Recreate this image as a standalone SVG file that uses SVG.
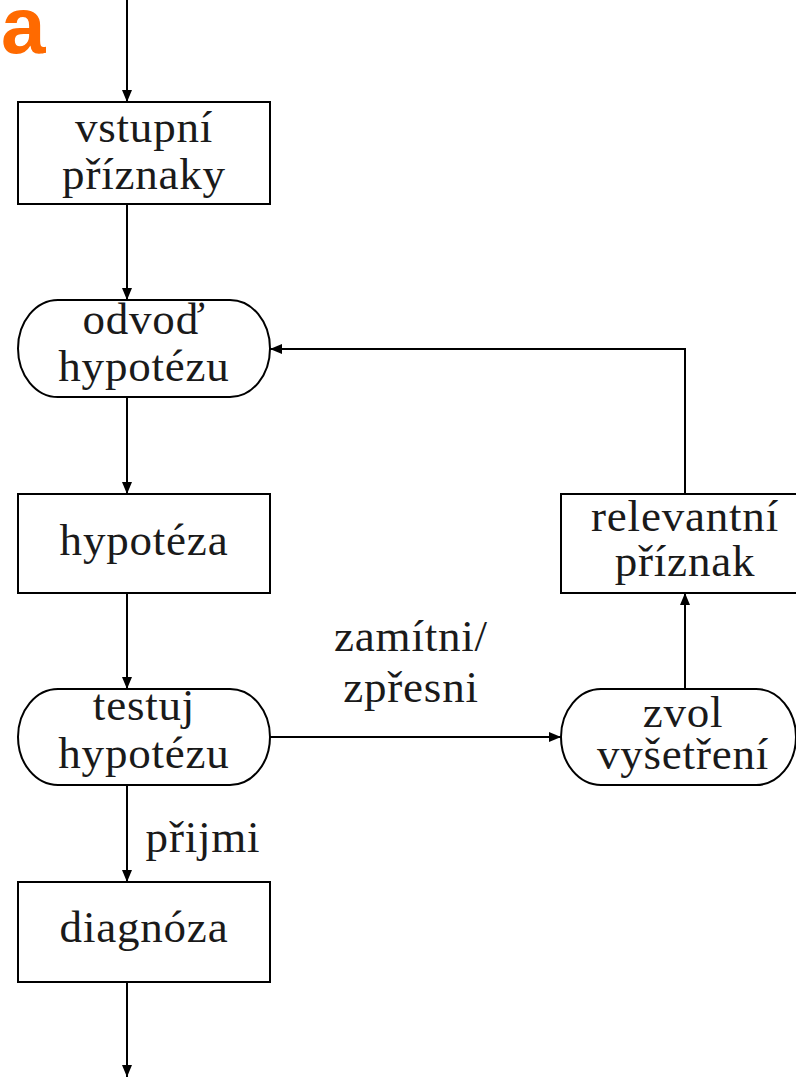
<svg xmlns="http://www.w3.org/2000/svg" width="796" height="1078" viewBox="0 0 796 1078">
  <style>
    .box { fill: none; stroke: #000; stroke-width: 2; }
    .lbl { font-family: "Liberation Serif", "Times New Roman", serif; font-size: 45px; letter-spacing: 0.8px; fill: #1a1a1a; text-anchor: middle; }
    .edge { fill: none; stroke: #000; stroke-width: 2; marker-end: url(#arrow); }
    .tag { font-family: "Liberation Sans", Arial, sans-serif; font-weight: bold; font-size: 80px; fill: #ff6a00; }
  </style>
  <defs>
    <marker id="arrow" markerUnits="userSpaceOnUse" markerWidth="13" markerHeight="11" refX="12" refY="5" orient="auto">
      <path d="M0,0 L12,5 L0,10 Z" fill="#000"/>
    </marker>
  </defs>
  <rect width="796" height="1078" fill="#fff"/>

  <text class="tag" x="1" y="53">a</text>

  <g id="connectors">
    <line class="edge" x1="127" y1="0" x2="127" y2="102"/>
    <line class="edge" x1="127" y1="204" x2="127" y2="300"/>
    <line class="edge" x1="127" y1="397" x2="127" y2="494"/>
    <line class="edge" x1="127" y1="593" x2="127" y2="689"/>
    <line class="edge" x1="127" y1="785" x2="127" y2="882"/>
    <line class="edge" x1="127" y1="982" x2="127" y2="1077"/>
    <line class="edge" x1="270" y1="737" x2="561" y2="737"/>
    <line class="edge" x1="685" y1="689" x2="685" y2="593"/>
    <polyline class="edge" points="685,494 685,349 270,349"/>
    <text class="lbl" x="411" y="651">zamítni/</text>
    <text class="lbl" x="411" y="702">zpřesni</text>
    <text class="lbl" x="203" y="852">přijmi</text>
  </g>

  <g id="vstupni-priznaky">
    <rect class="box" x="18" y="102" width="252" height="102"/>
    <text class="lbl" x="144" y="142">vstupní</text>
    <text class="lbl" x="144" y="189">příznaky</text>
  </g>

  <g id="odvod-hypotezu">
    <path class="box" d="M58,300 H230 A40,48.5 0 0 1 230,397 H58 A40,48.5 0 0 1 58,300 Z"/>
    <text class="lbl" x="144" y="334">odvoď</text>
    <text class="lbl" x="144" y="381">hypotézu</text>
  </g>

  <g id="hypoteza">
    <rect class="box" x="18" y="494" width="252" height="99"/>
    <text class="lbl" x="144" y="555">hypotéza</text>
  </g>

  <g id="testuj-hypotezu">
    <path class="box" d="M58,689 H230 A40,48 0 0 1 230,785 H58 A40,48 0 0 1 58,689 Z"/>
    <text class="lbl" x="144" y="720">testuj</text>
    <text class="lbl" x="144" y="768">hypotézu</text>
  </g>

  <g id="diagnoza">
    <rect class="box" x="18" y="882" width="252" height="100"/>
    <text class="lbl" x="144" y="942">diagnóza</text>
  </g>

  <g id="relevantni-priznak">
    <rect class="box" x="561" y="494" width="252" height="99"/>
    <text class="lbl" x="685" y="531">relevantní</text>
    <text class="lbl" x="685" y="576">příznak</text>
  </g>

  <g id="zvol-vysetreni">
    <path class="box" d="M601,689 H756 A40,48 0 0 1 756,785 H601 A40,48 0 0 1 601,689 Z"/>
    <text class="lbl" x="683" y="727">zvol</text>
    <text class="lbl" x="683" y="769">vyšetření</text>
  </g>
</svg>
